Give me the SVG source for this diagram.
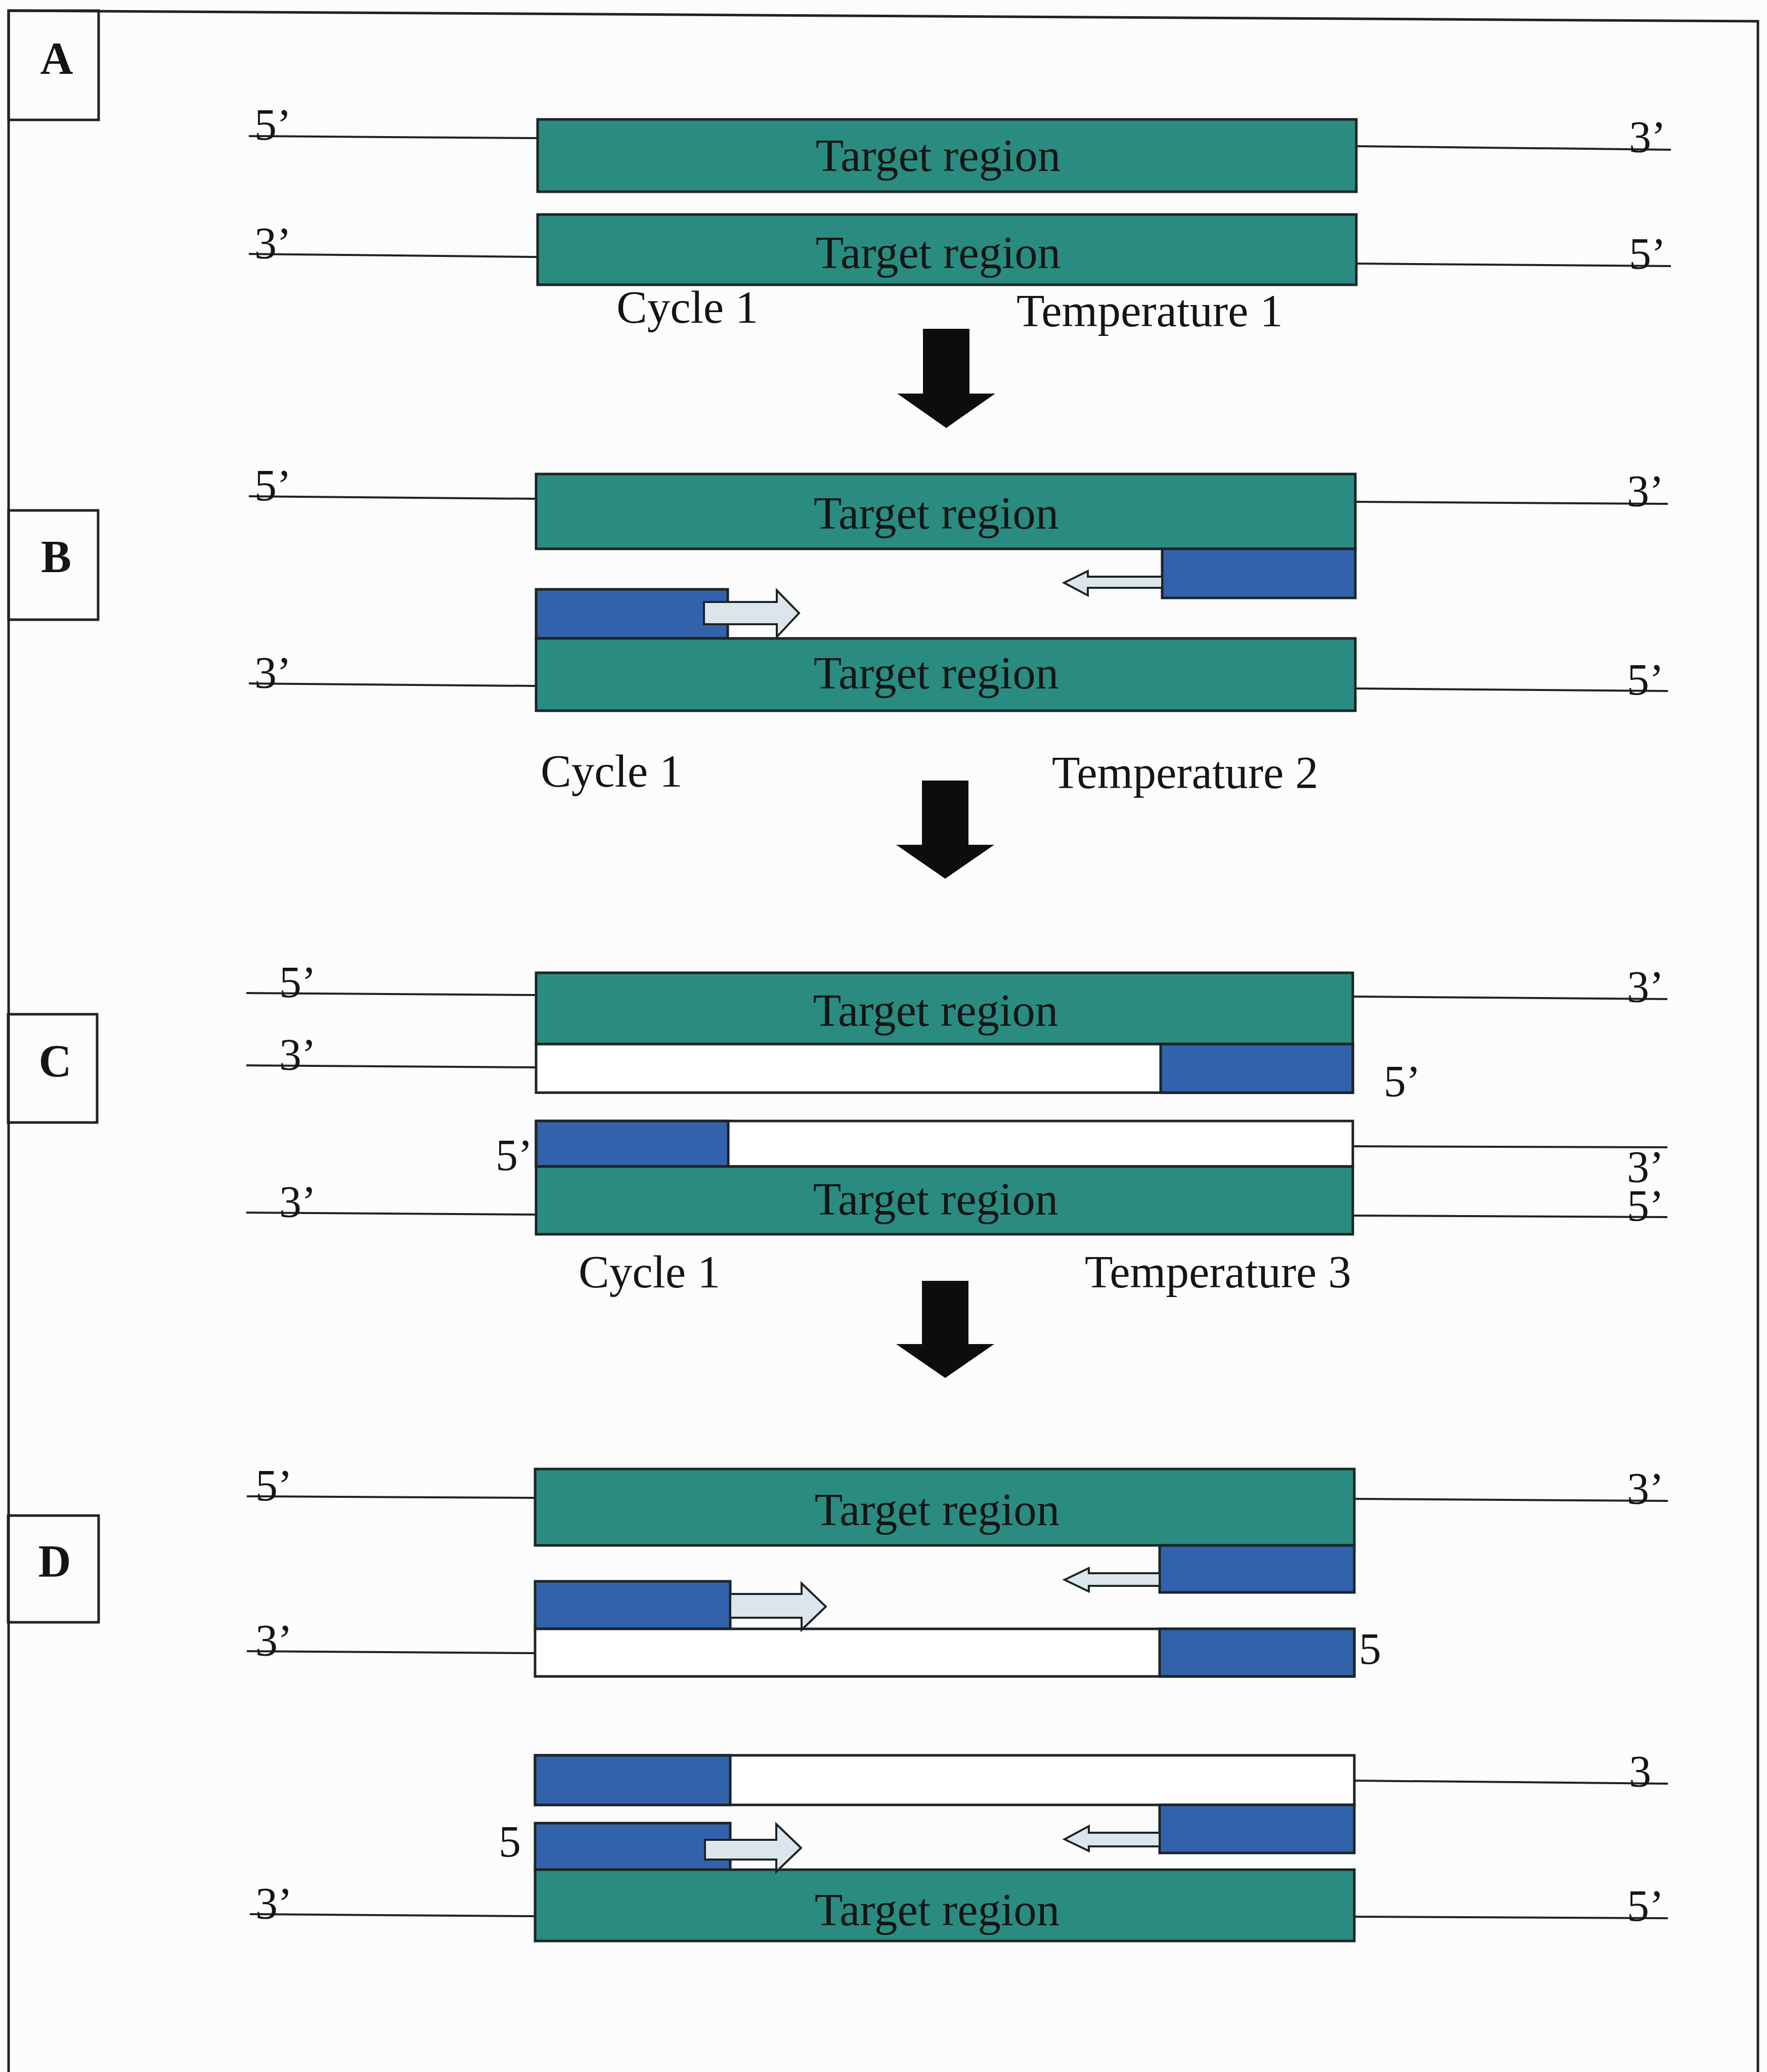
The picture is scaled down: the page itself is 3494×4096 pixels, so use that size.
<svg xmlns="http://www.w3.org/2000/svg" width="3494" height="4096" viewBox="0 0 3494 4096">
<style>
.t{font-family:"Liberation Serif","Times New Roman",serif;font-size:91px;fill:#151515}
.p{font-family:"Liberation Serif","Times New Roman",serif;font-size:88px;fill:#151515}
.b{font-family:"Liberation Serif","Times New Roman",serif;font-size:90px;font-weight:bold;fill:#151515;text-anchor:middle}
.tr{text-anchor:middle}
.teal{fill:#2a8c80;stroke:#1b2523;stroke-width:5}
.blue{fill:#3262ac;stroke:#1b2523;stroke-width:5}
.wht{fill:#ffffff;stroke:#1b2523;stroke-width:5}
.ln{stroke:#1b2523;stroke-width:4;fill:none}
.frm{stroke:#222;stroke-width:5;fill:none}
.sa{fill:#dce5ec;stroke:#1b2523;stroke-width:4;stroke-linejoin:miter}
.big{fill:#0d0d0d}
</style>
<rect x="0" y="0" width="3494" height="4096" fill="#fcfcfd"/>

<g id="frame">
<path class="frm" d="M17,4096 V21 L3476,42 V4096"/>
</g>

<g id="label-A"><rect class="frm" x="17" y="21" width="178" height="216"/><text class="b" x="112" y="146">A</text></g>
<g id="label-B"><rect class="frm" x="17" y="1009" width="177" height="216"/><text class="b" x="111" y="1131">B</text></g>
<g id="label-C"><rect class="frm" x="16" y="2005" width="176" height="214"/><text class="b" x="109" y="2128">C</text></g>
<g id="label-D"><rect class="frm" x="16" y="2996" width="179" height="211"/><text class="b" x="108" y="3117">D</text></g>

<!-- Section A -->
<g id="A-strand1">
<line class="ln" x1="492" y1="269" x2="1063" y2="273"/>
<line class="ln" x1="2682" y1="289" x2="3304" y2="296"/>
<rect class="teal" x="1063" y="236" width="1619" height="143"/>
<text class="t tr" x="1855" y="338">Target region</text>
<text class="p" x="503" y="276">5’</text>
<text class="p" x="3221" y="300">3’</text>
</g>
<g id="A-strand2">
<line class="ln" x1="492" y1="502" x2="1063" y2="508"/>
<line class="ln" x1="2682" y1="521" x2="3304" y2="526"/>
<rect class="teal" x="1063" y="424" width="1619" height="139"/>
<text class="t tr" x="1855" y="530">Target region</text>
<text class="p" x="503" y="510">3’</text>
<text class="p" x="3221" y="531">5’</text>
</g>
<g id="A-captions">
<text class="t" x="1219" y="638">Cycle 1</text>
<text class="t" x="2010" y="645">Temperature 1</text>
</g>

<!-- Section B -->
<g id="B-strand1">
<line class="ln" x1="492" y1="981" x2="1060" y2="986"/>
<line class="ln" x1="2680" y1="992" x2="3298" y2="996"/>
<rect class="teal" x="1060" y="937" width="1620" height="148"/>
<text class="t tr" x="1851" y="1045">Target region</text>
<text class="p" x="503" y="989">5’</text>
<text class="p" x="3217" y="1000">3’</text>
</g>
<g id="B-primer-right">
<rect class="blue" x="2298" y="1085" width="382" height="97"/>
</g>
<g id="B-primer-left">
<rect class="blue" x="1060" y="1165" width="379" height="97"/>
</g>
<g id="B-strand2">
<line class="ln" x1="492" y1="1351" x2="1060" y2="1356"/>
<line class="ln" x1="2680" y1="1361" x2="3298" y2="1366"/>
<rect class="teal" x="1060" y="1262" width="1620" height="143"/>
<text class="t tr" x="1851" y="1361">Target region</text>
<text class="p" x="503" y="1359">3’</text>
<text class="p" x="3217" y="1373">5’</text>
</g>
<g id="B-captions">
<text class="t" x="1069" y="1555">Cycle 1</text>
<text class="t" x="2080" y="1558">Temperature 2</text>
</g>

<!-- Section C -->
<g id="C-strand1">
<line class="ln" x1="487" y1="1963" x2="1060" y2="1967"/>
<line class="ln" x1="2675" y1="1970" x2="3297" y2="1975"/>
<rect class="teal" x="1060" y="1923" width="1615" height="141"/>
<text class="t tr" x="1850" y="2028">Target region</text>
<text class="p" x="552" y="1971">5’</text>
<text class="p" x="3217" y="1980">3’</text>
</g>
<g id="C-strand2">
<line class="ln" x1="487" y1="2106" x2="1060" y2="2110"/>
<rect class="wht" x="1060" y="2064" width="1615" height="96"/>
<rect class="blue" x="2295" y="2064" width="380" height="96"/>
<text class="p" x="552" y="2114">3’</text>
<text class="p" x="2736" y="2167">5’</text>
</g>
<g id="C-strand3">
<line class="ln" x1="2675" y1="2266" x2="3297" y2="2268"/>
<rect class="wht" x="1060" y="2216" width="1615" height="90"/>
<rect class="blue" x="1060" y="2216" width="380" height="90"/>
<text class="p" x="980" y="2313">5’</text>
</g>
<g id="C-strand4">
<line class="ln" x1="487" y1="2397" x2="1060" y2="2401"/>
<line class="ln" x1="2675" y1="2403" x2="3297" y2="2406"/>
<rect class="teal" x="1060" y="2306" width="1615" height="134"/>
<text class="t tr" x="1850" y="2401">Target region</text>
<text class="p" x="552" y="2405">3’</text>
<text class="p" x="3217" y="2336">3’</text>
<text class="p" x="3217" y="2413">5’</text>
</g>
<g id="C-captions">
<text class="t" x="1144" y="2545">Cycle 1</text>
<text class="t" x="2145" y="2545">Temperature 3</text>
</g>

<!-- Section D -->
<g id="D-strand1">
<line class="ln" x1="488" y1="2958" x2="1058" y2="2961"/>
<line class="ln" x1="2678" y1="2963" x2="3298" y2="2967"/>
<rect class="teal" x="1058" y="2904" width="1620" height="151"/>
<text class="t tr" x="1853" y="3015">Target region</text>
<text class="p" x="505" y="2966">5’</text>
<text class="p" x="3217" y="2972">3’</text>
</g>
<g id="D-primer-right1">
<rect class="blue" x="2293" y="3055" width="385" height="93"/>
</g>
<g id="D-primer-left1">
<rect class="blue" x="1058" y="3126" width="386" height="94"/>
</g>
<g id="D-strand2">
<line class="ln" x1="488" y1="3264" x2="1058" y2="3268"/>
<rect class="wht" x="1058" y="3220" width="1620" height="94"/>
<rect class="blue" x="2293" y="3220" width="385" height="94"/>
<text class="p" x="505" y="3272">3’</text>
<text class="p" x="2687" y="3289">5</text>
</g>
<g id="D-strand3">
<line class="ln" x1="2678" y1="3520" x2="3298" y2="3526"/>
<rect class="wht" x="1058" y="3470" width="1620" height="98"/>
<rect class="blue" x="1058" y="3470" width="386" height="98"/>
<text class="p" x="3221" y="3531">3</text>
</g>
<g id="D-primer-right2">
<rect class="blue" x="2293" y="3568" width="385" height="95"/>
</g>
<g id="D-primer-left2">
<rect class="blue" x="1058" y="3604" width="386" height="92"/>
<text class="p" x="986" y="3670">5</text>
</g>
<g id="D-strand5">
<line class="ln" x1="494" y1="3784" x2="1058" y2="3788"/>
<line class="ln" x1="2678" y1="3789" x2="3298" y2="3792"/>
<rect class="teal" x="1058" y="3696" width="1620" height="141"/>
<text class="t tr" x="1853" y="3806">Target region</text>
<text class="p" x="505" y="3792">3’</text>
<text class="p" x="3217" y="3797">5’</text>
</g>

<g id="connectors">
<!-- big process arrows -->
<path class="big" d="M1825,650 H1917 V778 H1968 L1871,846 L1774,778 H1825 Z"/>
<path class="big" d="M1823,1543 H1915 V1670 H1966 L1869,1737 L1772,1670 H1823 Z"/>
<path class="big" d="M1823,2532 H1915 V2657 H1966 L1869,2724 L1772,2657 H1823 Z"/>
<!-- extension arrows, section B -->
<path class="sa" d="M1392,1190 H1536 V1167 L1580,1212 L1536,1259 V1234 H1392 Z"/>
<path class="sa" d="M2298,1140 H2151 V1129 L2104,1152 L2151,1177 V1162 H2298 Z"/>
<!-- extension arrows, section D -->
<path class="sa" d="M1444,3151 H1585 V3130 L1633,3176 L1585,3222 V3198 H1444 Z"/>
<path class="sa" d="M2293,3110 H2153 V3100 L2105,3123 L2153,3146 V3135 H2293 Z"/>
<path class="sa" d="M1394,3637 H1535 V3606 L1584,3653 L1535,3700 V3676 H1394 Z"/>
<path class="sa" d="M2293,3623 H2153 V3610 L2105,3636 L2153,3659 V3650 H2293 Z"/>
</g>
</svg>
